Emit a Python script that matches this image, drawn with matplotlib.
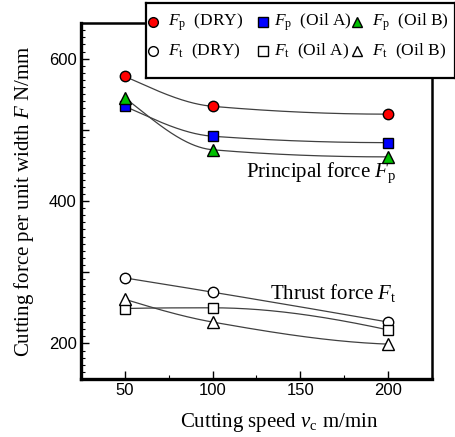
import numpy as np
from matplotlib import pyplot as plt
from matplotlib.ticker import MultipleLocator, FuncFormatter

plt.rcParams['font.family'] = ['Liberation Serif', 'DejaVu Serif']
plt.rcParams['mathtext.fontset'] = 'custom'
plt.rcParams['mathtext.rm'] = 'Liberation Serif'
plt.rcParams['mathtext.it'] = 'Liberation Serif:italic'

# cutting speed (m/min)
speed = [50, 100, 200]

# principal force Fp (N/mm)
fp_dry = [575, 533, 522]
fp_oil_a = [533, 491, 482]
fp_oil_b = [545, 472, 462]

# thrust force Ft (N/mm)
ft_dry = [292, 272, 230]
ft_oil_a = [249, 250, 219]
ft_oil_b = [262, 230, 199]

conditions = ['(DRY)', '(Oil A)', '(Oil B)']


def pchip(x, y, xs):
    """monotone cubic through the measured points"""
    x = np.asarray(x, float)
    y = np.asarray(y, float)
    h = np.diff(x)
    dl = np.diff(y) / h
    n = len(x)
    d = np.zeros(n)
    for k in range(1, n - 1):
        if dl[k - 1] * dl[k] > 0:
            w1 = 2 * h[k] + h[k - 1]
            w2 = h[k] + 2 * h[k - 1]
            d[k] = (w1 + w2) / (w1 / dl[k - 1] + w2 / dl[k])

    def end(h0, h1, d0, d1):
        v = ((2 * h0 + h1) * d0 - h0 * d1) / (h0 + h1)
        if np.sign(v) != np.sign(d0):
            return 0.0
        if np.sign(d0) != np.sign(d1) and abs(v) > abs(3 * d0):
            return 3 * d0
        return v

    d[0] = end(h[0], h[1], dl[0], dl[1])
    d[-1] = end(h[-1], h[-2], dl[-1], dl[-2])
    i = np.clip(np.searchsorted(x, xs) - 1, 0, n - 2)
    t = (xs - x[i]) / h[i]
    h00 = 2 * t**3 - 3 * t**2 + 1
    h10 = t**3 - 2 * t**2 + t
    h01 = -2 * t**3 + 3 * t**2
    h11 = t**3 - t**2
    return h00 * y[i] + h10 * h[i] * d[i] + h01 * y[i + 1] + h11 * h[i] * d[i + 1]


fig = plt.figure(figsize=(4.56, 4.37), dpi=100)
ax = fig.add_axes([0.1776, 0.1327, 0.7697, 0.8146])

xs = np.linspace(speed[0], speed[-1], 200)
series = [
    (fp_dry, 'o', 'red'),
    (fp_oil_a, 's', 'blue'),
    (fp_oil_b, '^', '#00c000'),
    (ft_dry, 'o', 'white'),
    (ft_oil_a, 's', 'white'),
    (ft_oil_b, '^', 'white'),
]
msize = {'o': 7.5, 's': 7.5, '^': 8}
for vals, m, fc in series:
    ax.plot(xs, pchip(speed, vals, xs), color='#404040', lw=0.9, zorder=2)
    ax.plot(speed, vals, m, ms=msize[m], mfc=fc, mec='black',
            mew=1.0, ls='none', zorder=3)

ax.set_xlim(25, 225)
ax.set_ylim(150, 650)
ax.xaxis.set_major_locator(MultipleLocator(50))
ax.xaxis.set_minor_locator(MultipleLocator(25))
ax.yaxis.set_major_locator(MultipleLocator(100))
ax.yaxis.set_minor_locator(MultipleLocator(10))
ax.yaxis.set_major_formatter(FuncFormatter(lambda v, p: f'{v:.0f}' if v % 200 == 0 else ''))
ax.tick_params(which='both', direction='in', top=False, right=False)
ax.tick_params(which='major', length=6, width=1, labelsize=12, pad=3)
ax.tick_params(which='minor', length=3, width=0.8)
for lab in ax.get_xticklabels() + ax.get_yticklabels():
    lab.set_family('Liberation Sans')

ax.spines['left'].set_linewidth(2.4)
ax.spines['bottom'].set_linewidth(2.4)
ax.spines['right'].set_linewidth(1.8)
ax.spines['top'].set_linewidth(1.8)

ax.set_xlabel(r'Cutting speed $v_\mathrm{c}$ m/min', fontsize=15, va='center')
ax.xaxis.set_label_coords(0.565, -0.121)
ax.set_ylabel(r'Cutting force per unit width $F$ N/mm', fontsize=15, labelpad=9)

ax.text(204.5, 440, r'Principal force $F_\mathrm{p}$', fontsize=15, ha='right', va='center')
ax.text(204.5, 271, r'Thrust force $F_\mathrm{t}$', fontsize=15, ha='right', va='center')

# key box above the top right of the plot, laid out in pixel units
lax = fig.add_axes([146 / 456, 359 / 437, 309 / 456, 75 / 437], zorder=5)
lax.set_xlim(0, 309)
lax.set_ylim(75, 0)
lax.set_xticks([])
lax.set_yticks([])
for s in lax.spines.values():
    s.set_linewidth(1.6)
col_x = [7, 117, 211]
text_dx = [15, 11, 15]
row_y = [19, 48]
for j, name in enumerate(conditions):
    for r, (vals, m, fc) in enumerate((series[j], series[j + 3])):
        lax.plot(col_x[j], row_y[r], m, ms=msize[m] - 0.5, mfc=fc, mec='black',
                 mew=1.0, ls='none', clip_on=False)
        sym = r'$F_\mathrm{p}$' if r == 0 else r'$F_\mathrm{t}$'
        lax.text(col_x[j] + text_dx[j], row_y[r], sym + '  ' + name, fontsize=12.5,
                 ha='left', va='center')

fig.savefig('out.png', dpi=100)
